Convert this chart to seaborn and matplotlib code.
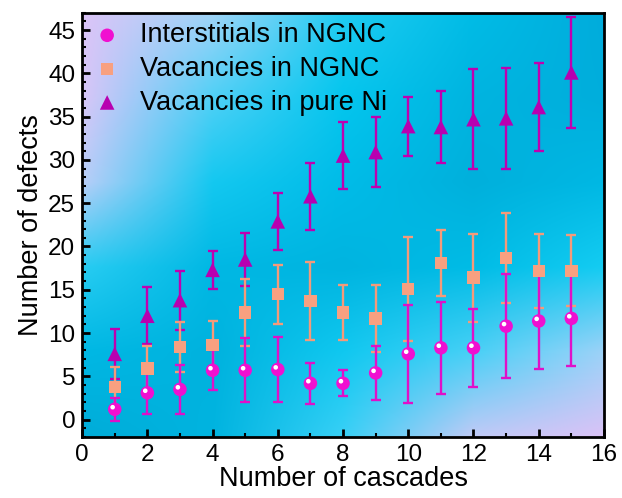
import numpy as np
import pandas as pd
import seaborn as sns
import matplotlib.pyplot as plt
from matplotlib.colors import to_rgb
from matplotlib.ticker import MultipleLocator
from matplotlib.transforms import ScaledTranslation

# 데이터
cascades = list(range(1, 16))
inter_ngnc = [1.2, 3.1, 3.5, 5.7, 5.7, 5.8, 4.2, 4.2, 5.4, 7.6, 8.3, 8.3, 10.8, 11.4, 11.7]
inter_err = [1.3, 2.4, 2.8, 2.3, 3.7, 3.8, 2.4, 1.5, 3.1, 5.7, 5.3, 4.5, 6.0, 5.5, 5.5]
vac_ngnc = [3.8, 5.9, 8.4, 8.6, 12.4, 14.5, 13.7, 12.4, 11.7, 15.1, 18.1, 16.4, 18.7, 17.2, 17.2]
vac_err = [2.3, 2.6, 2.9, 2.8, 3.9, 3.4, 4.5, 3.2, 3.9, 6.0, 3.8, 5.1, 5.2, 4.3, 4.1]
vac_ni = [7.6, 12.0, 13.8, 17.3, 18.5, 22.9, 25.8, 30.5, 30.9, 33.9, 33.8, 34.7, 34.8, 36.1, 40.1]
vac_ni_err = [2.9, 3.3, 3.4, 2.2, 3.1, 3.3, 3.9, 3.9, 4.0, 3.4, 4.2, 5.8, 5.8, 5.1, 6.4]

labels = ["Interstitials in NGNC", "Vacancies in NGNC", "Vacancies in pure Ni"]

sns.set_style("ticks")
plt.rcParams['font.family'] = ['Liberation Sans', 'DejaVu Sans']
for k in ["text.color", "axes.labelcolor", "xtick.color", "ytick.color"]:
    plt.rcParams[k] = "black"

fig = plt.figure(figsize=(6.22, 4.98), dpi=100)
ax = fig.add_axes([0.132, 0.1225, 0.839, 0.852])

xlim = (0, 16)
ylim = (-2, 47)

# 배경 그라데이션 (위->아래, 왼->오른 색 격자)
bg_grid = [
    ["#dcc4f8", "#a0d4f8", "#20ccf2", "#00bce6", "#00acdc"],
    ["#d8c6f8", "#50d0f6", "#04c6ee", "#00b4e0", "#00aedc"],
    ["#b8cef8", "#14c8f0", "#00bce8", "#00b0dc", "#00b8e4"],
    ["#28ccf2", "#00b8e4", "#00b4e0", "#00bce6", "#14ccf2"],
    ["#00b8e4", "#00b2de", "#10c8f0", "#48d0f6", "#9cd2f8"],
    ["#00acd8", "#00b4e0", "#38d0f6", "#c0caf6", "#dac2f6"],
]
g = np.array([[to_rgb(c) for c in row] for row in bg_grid])
gy = np.linspace(0, 1, g.shape[0])
gx = np.linspace(0, 1, g.shape[1])
fx = np.linspace(0, 1, 400)
fy = np.linspace(0, 1, 400)
tmp = np.stack([[np.interp(fx, gx, g[r, :, c]) for c in range(3)] for r in range(g.shape[0])])
img = np.stack([[np.interp(fy, gy, tmp[:, c, i]) for c in range(3)] for i in range(len(fx))])
img = np.transpose(img, (2, 0, 1))
ax.imshow(img, extent=[xlim[0], xlim[1], ylim[0], ylim[1]], origin="upper",
          aspect="auto", zorder=0, interpolation="bilinear")

# 에러바
eb = dict(fmt="none", elinewidth=1.7, capsize=3.6, capthick=1.7)
ax.errorbar(cascades, vac_ni, yerr=vac_ni_err, ecolor="#c000b0", zorder=2, **eb)
ax.errorbar(cascades, vac_ngnc, yerr=vac_err, ecolor="#f59a7a", zorder=3, **eb)
ax.errorbar(cascades, inter_ngnc, yerr=inter_err, ecolor="#e010c8", zorder=4, **eb)

df = pd.DataFrame({"x": cascades, "inter": inter_ngnc, "vac": vac_ngnc, "ni": vac_ni})
sns.scatterplot(data=df, x="x", y="inter", marker="o", s=95, color="#f010d0",
                edgecolor="none", label=labels[0], ax=ax, zorder=6)
sns.scatterplot(data=df, x="x", y="vac", marker="s", s=80, color="#f8a080",
                edgecolor="none", label=labels[1], ax=ax, zorder=5)
sns.scatterplot(data=df, x="x", y="ni", marker="^", s=110, color="#b800b0",
                edgecolor="none", label=labels[2], ax=ax, zorder=4)
# 구 하이라이트
shift = ScaledTranslation(-1.5 / 72, 1.5 / 72, fig.dpi_scale_trans)
ax.scatter(df["x"], df["inter"], s=11, color="white", edgecolor="none",
           transform=ax.transData + shift, zorder=7)

ax.set_xlim(*xlim)
ax.set_ylim(*ylim)
ax.xaxis.set_major_locator(MultipleLocator(2))
ax.xaxis.set_minor_locator(MultipleLocator(1))
ax.yaxis.set_major_locator(MultipleLocator(5))
ax.yaxis.set_minor_locator(MultipleLocator(1))
ax.tick_params(which="major", direction="in", length=6, width=2, labelsize=17.5, pad=5)
ax.tick_params(which="minor", direction="in", length=3, width=1.5)
for s in ax.spines.values():
    s.set_linewidth(2)
    s.set_color("black")
    s.set_visible(True)

ax.set_xlabel("Number of cascades", fontsize=19.5, labelpad=0)
ax.set_ylabel("Number of defects", fontsize=19.5, labelpad=3)

leg = ax.legend(loc="upper left", bbox_to_anchor=(0, 1 - 7 / 424), frameon=False,
                fontsize=19.5, handletextpad=0.4, borderaxespad=0.1, borderpad=0,
                labelspacing=0.28, handlelength=1.65)

fig.savefig("out.png", dpi=100)
